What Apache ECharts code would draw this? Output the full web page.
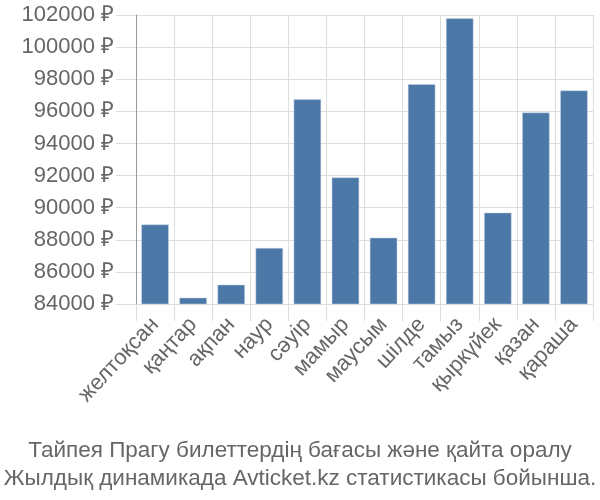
<!DOCTYPE html>
<html><head><meta charset="utf-8">
<script src="https://cdn.jsdelivr.net/npm/echarts@6/dist/echarts.min.js"></script>
<style>html,body{margin:0;padding:0;background:#fff}#c{width:600px;height:500px}</style>
</head><body><div id="c"></div>
<script>
const categories = ["желтоқсан","қаңтар","ақпан","наур","сәуір","мамыр","маусым","шілде","тамыз","қыркүйек","қазан","қараша"];
const prices = [88950, 84390, 85200, 87490, 96760, 91880, 88130, 97690, 101790, 89690, 95920, 97300];
const titleLines = ["Тайпея Прагу билеттердің бағасы және қайта оралу", "Жылдық динамикада Avticket.kz статистикасы бойынша."];
const yMin = 84000, yMax = 102000, yStep = 2000;

const FONT = 'Liberation Sans, Arial, sans-serif';
const chart = echarts.init(document.getElementById('c'), null, {renderer: 'canvas'});
chart.setOption({
  animation: false,
  textStyle: {fontFamily: FONT},
  title: {
    text: titleLines.join('\n'),
    left: 'center', top: 432,
    textStyle: {fontSize: 22.5, fontWeight: 'normal', color: '#666', lineHeight: 28, fontFamily: FONT}
  },
  grid: {left: 136, right: 7, top: 15, bottom: 196, containLabel: false},
  xAxis: {
    type: 'category', data: categories,
    axisLine: {show: false},
    axisTick: {show: true, length: 17, lineStyle: {color: '#ddd'}},
    splitLine: {show: true, lineStyle: {color: '#ddd'}},
    axisLabel: {rotate: 47, fontSize: 22, color: '#666', margin: 17, interval: 0, fontFamily: FONT}
  },
  yAxis: {
    type: 'value', min: yMin, max: yMax, interval: yStep,
    axisLine: {show: true, lineStyle: {color: '#999'}},
    axisTick: {show: true, length: 20, lineStyle: {color: '#ddd'}},
    splitLine: {show: true, lineStyle: {color: '#ddd'}},
    axisLabel: {fontSize: 22, color: '#666', margin: 22, formatter: v => v + ' ₽', fontFamily: FONT}
  },
  series: [{
    type: 'bar', data: prices, barWidth: '72%',
    itemStyle: {color: '#4c78a8', borderColor: '#c9d6e6', borderWidth: 0.5}
  }]
});
</script></body></html>
